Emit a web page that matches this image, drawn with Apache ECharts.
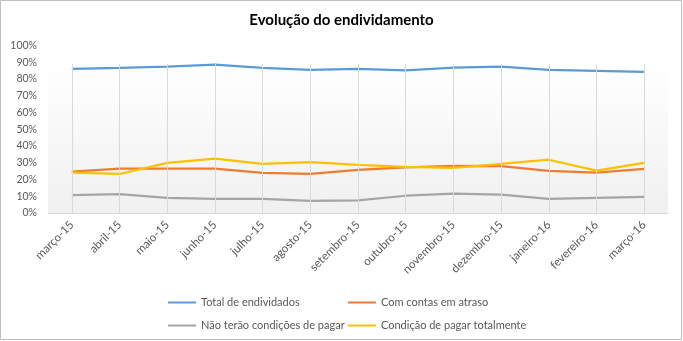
<!DOCTYPE html>
<html><head><meta charset="utf-8">
<script src="https://cdn.jsdelivr.net/npm/echarts@6/dist/echarts.min.js"></script>
<style>html,body{margin:0;padding:0;background:#fff}#c{width:683px;height:341px}</style>
</head><body><div id="c"></div>
<script>
const categories = ['março-15','abril-15','maio-15','junho-15','julho-15','agosto-15','setembro-15','outubro-15','novembro-15','dezembro-15','janeiro-16','fevereiro-16','março-16'];
const totalEndividados = [0.860,0.866,0.874,0.886,0.866,0.854,0.860,0.852,0.868,0.874,0.854,0.848,0.842];
const comContasAtraso = [0.247,0.265,0.265,0.265,0.239,0.233,0.257,0.273,0.282,0.280,0.251,0.241,0.263];
const naoTeraoCondicoes = [0.107,0.113,0.090,0.084,0.084,0.072,0.076,0.103,0.115,0.109,0.084,0.091,0.097];
const condicaoPagar = [0.241,0.233,0.299,0.324,0.293,0.304,0.288,0.276,0.270,0.293,0.318,0.253,0.299];
const plotTop = 0.89;

const chart = echarts.init(document.getElementById('c'));
const font = 'Lato, "Open Sans", sans-serif';
const mk = (name, data, color) => ({
  name, type:'line', data, symbol:'none', smooth:false,
  lineStyle:{color, width:2.25}, itemStyle:{color}, z:3
});
chart.setOption({
  animation:false,
  textStyle:{fontFamily:font},
  title:{text:'Evolução do endividamento', left:'center', top:8,
    textStyle:{fontSize:15, fontWeight:'bold', color:'#000', fontFamily:font}},
  grid:{left:48, right:15, top:45.5, bottom:128, containLabel:false},
  xAxis:{type:'category', data:categories, boundaryGap:true,
    axisLine:{lineStyle:{color:'#d9d9d9'}}, axisTick:{show:false},
    axisLabel:{rotate:45, color:'#595959', fontSize:11.5, margin:10, interval:0, fontFamily:font},
    splitLine:{show:false}},
  yAxis:{type:'value', min:0, max:1, interval:0.1,
    axisLine:{show:false}, axisTick:{show:false}, splitLine:{show:false},
    axisLabel:{color:'#595959', fontSize:10.5, margin:11, fontFamily:font,
      formatter:v=>Math.round(v*100)+'%'}},
  legend:[
    {data:['Total de endividados','Não terão condições de pagar'], orient:'vertical',
     left:163, top:292, itemWidth:28, itemHeight:2, icon:'rect', itemGap:12,
     textStyle:{color:'#595959', fontSize:11, fontFamily:font}},
    {data:['Com contas em atraso','Condição de pagar totalmente'], orient:'vertical',
     left:343, top:292, itemWidth:28, itemHeight:2, icon:'rect', itemGap:12,
     textStyle:{color:'#595959', fontSize:11, fontFamily:font}}
  ],
  graphic:[{type:'rect', shape:{x:0.5,y:0.5,width:681,height:339},
    style:{fill:'none', stroke:'#bfbfbf', lineWidth:1}, silent:true}],
  series:[
    {name:'_bg', type:'line', data:categories.map(()=>null), z:1, silent:true,
      markArea:{silent:true, itemStyle:{color:{type:'linear',x:0,y:0,x2:0,y2:1,
        colorStops:[{offset:0,color:'#ffffff'},{offset:1,color:'#f0f0f0'}]}},
        data:[[{yAxis:plotTop},{yAxis:0}]]},
      markLine:{silent:true, symbol:'none', label:{show:false},
        lineStyle:{color:'#d9d9d9', width:1, type:'solid'},
        data:categories.map(c=>[{coord:[c,0]},{coord:[c,plotTop]}])}},
    mk('Total de endividados', totalEndividados, '#5b9bd5'),
    mk('Com contas em atraso', comContasAtraso, '#ed7d31'),
    mk('Não terão condições de pagar', naoTeraoCondicoes, '#a5a5a5'),
    mk('Condição de pagar totalmente', condicaoPagar, '#ffc000')
  ]
});
</script></body></html>
